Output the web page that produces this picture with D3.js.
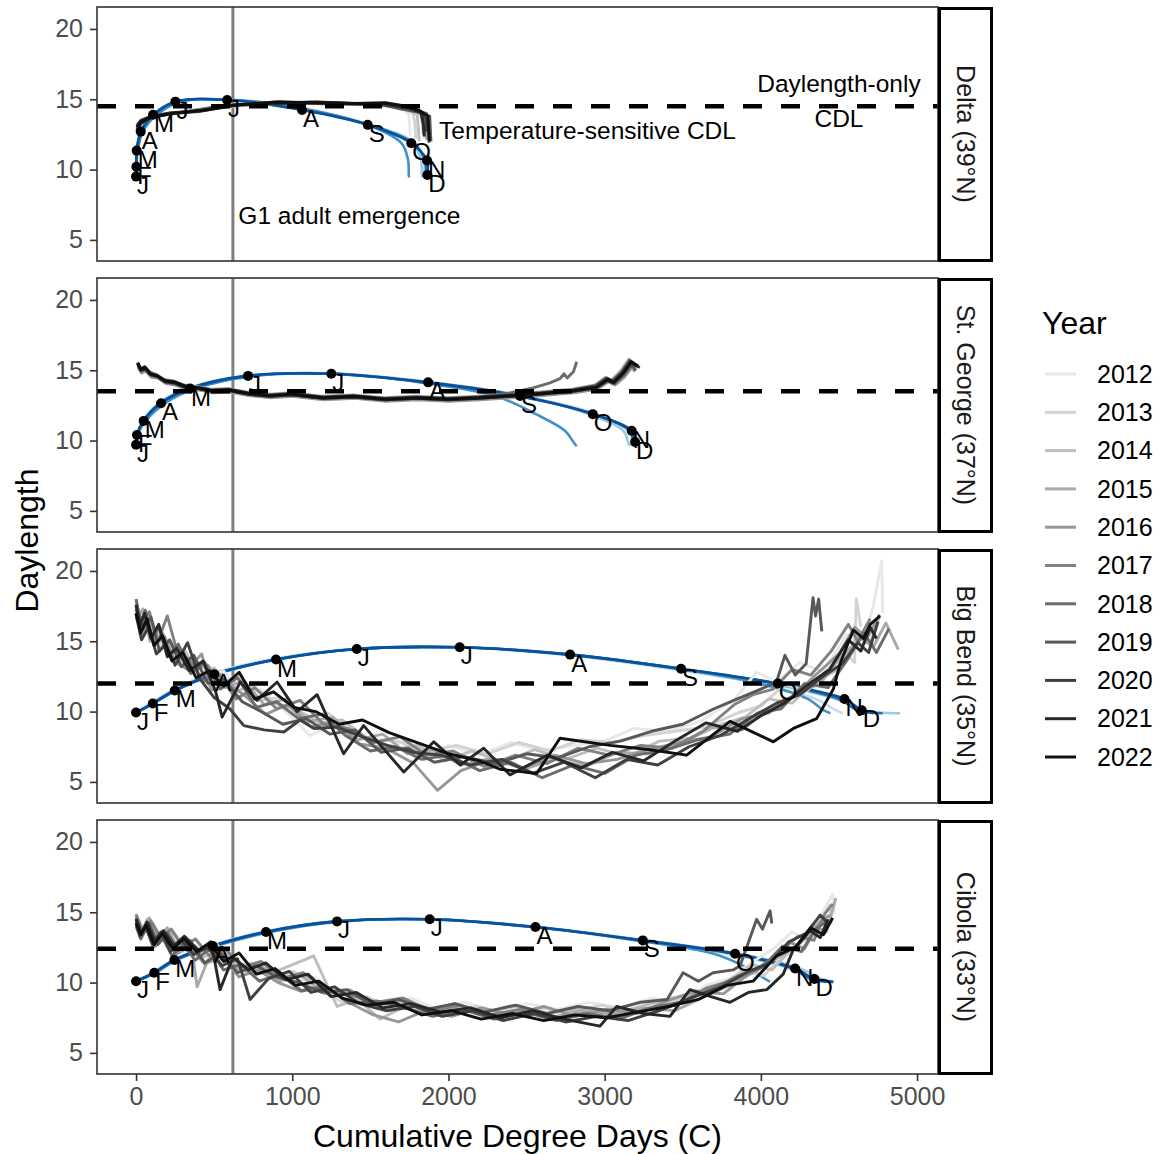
<!DOCTYPE html>
<html><head><meta charset="utf-8">
<script src="https://cdn.jsdelivr.net/npm/d3@7"></script>
<style>body{margin:0;background:#fff}svg{display:block}text{font-family:"Liberation Sans",Arial,Helvetica,sans-serif}</style>
</head><body><svg id="chart" width="1162" height="1154"></svg>
<script>
// ---------------- DATA ----------------
const years = [2012,2013,2014,2015,2016,2017,2018,2019,2020,2021,2022];
const yearColors = ['#e8e8e8','#d3d3d3','#bebebe','#a9a9a9','#969696','#818181','#6c6c6c','#585858','#404040','#272727','#0f0f0f'];
const blueColors = ['#c6dbef','#9ecae1','#4292c6','#2171b5','#08519c'];
const monthLetters = ['J','F','M','A','M','J','J','A','S','O','N','D'];
const siteNames = ['Delta (39°N)','St. George (37°N)','Big Bend (35°N)','Cibola (33°N)'];
const daylengthOnlyCDL = [14.5, 13.5, 12.0, 12.4];
const g1Emergence = 620;
const xTicks = [0,1000,2000,3000,4000,5000];
const yTicks = [5,10,15,20];

// daylength at month starts (Jan..Dec) + Dec 31
const deltaDaylength   = [9.5,10.2,11.35,12.7,13.9,14.83,14.95,14.24,13.18,11.87,10.64,9.62,9.45];
const stGeorgeDaylength= [9.7,10.4,11.4,12.65,13.7,14.6,14.75,14.14,13.17,11.88,10.7,9.9,9.6];
const bigBendDaylength = [9.93,10.57,11.5,12.65,13.7,14.45,14.57,14.05,13.05,12.0,10.9,10.1,9.88];
const cibolaDaylength  = [10.1,10.7,11.6,12.6,13.6,14.35,14.5,13.95,13.0,12.05,11.0,10.25,10.05];

// cumulative degree days at month starts, one row per blue curve
const deltaBlueDD = [
 [0,3,9,42,128,280,620,1100,1510,1790,1840,1845,1847],
 [0,2,8,38,120,270,605,1085,1495,1770,1825,1830,1833],
 [0,3,10,44,132,290,640,1120,1480,1700,1742,1746,1749],
 [0,2,6,34,115,262,595,1075,1490,1775,1850,1856,1859],
 [0,2,4,30,109,252,583,1063,1483,1762,1863,1865,1868]];
const stGeorgeBlueDD = [
 [0,8,60,180,370,750,1290,1900,2480,2950,3150,3175,3182],
 [0,7,55,170,360,735,1270,1885,2470,2900,3120,3150,3162],
 [0,9,62,185,380,760,1290,1820,2300,2560,2746,2800,2821],
 [0,5,45,150,335,700,1230,1850,2440,2930,3160,3185,3192],
 [0,6,49,160,346,717,1250,1870,2458,2924,3173,3195,3205]];
const bigBendBlueDD = [
 [0,95,230,470,860,1380,2040,2740,3420,3980,4350,4480,4525],
 [0,100,240,485,880,1400,2060,2760,3450,4060,4480,4650,4891],
 [0,110,255,510,905,1420,2080,2790,3460,3990,4300,4400,4445],
 [0,104,245,495,890,1405,2065,2770,3480,4090,4500,4620,4780],
 [0,107,248,501,896,1413,2072,2779,3489,4108,4535,4646,4720]];
const cibolaBlueDD = [
 [0,110,235,475,810,1265,1860,2530,3210,3790,4180,4330,4400],
 [0,120,250,500,845,1300,1895,2575,3265,3860,4250,4390,4470],
 [0,125,260,510,860,1320,1900,2560,3200,3700,3920,4030,4059],
 [0,113,240,485,825,1280,1870,2545,3235,3820,4200,4320,4420],
 [0,117,245,491,832,1287,1880,2557,3244,3835,4219,4343,4462]];

// month points (cumulative degree days at month starts)
const deltaPointDD    = [0,2,4,30,109,252,583,1063,1483,1762,1863,1865];
const stGeorgePointDD = [0,6,49,160,346,717,1250,1870,2458,2924,3173,3195];
const bigBendPointDD  = [0,107,248,501,896,1413,2072,2779,3489,4108,4535,4646];
const cibolaPointDD   = [0,117,245,491,832,1287,1880,2557,3244,3835,4219,4343];

// temperature-sensitive CDL, one row per year 2012..2022: [degree days, CDL]
const deltaCDL = [
 [[6,13.0],[30,13.4],[90,13.7],[200,13.95],[390,14.15],[600,14.5],[850,14.7],[1100,14.75],[1350,14.7],[1560,14.65],[1690,14.35],[1745,14.0],[1752,13.1],[1756,12.4]],
 [[5,12.6],[25,13.2],[80,13.6],[180,13.9],[350,14.1],[560,14.5],[800,14.65],[1050,14.8],[1300,14.7],[1520,14.7],[1660,14.5],[1770,14.2],[1785,13.3],[1790,12.2]],
 [[8,13.1],[35,13.5],[110,13.8],[230,14.05],[420,14.2],[640,14.6],[900,14.7],[1150,14.75],[1400,14.65],[1600,14.6],[1720,14.3],[1800,13.9],[1808,12.8],[1812,12.0]],
 [[4,12.8],[28,13.3],[95,13.7],[210,14.0],[400,14.15],[620,14.55],[880,14.75],[1130,14.7],[1380,14.7],[1580,14.55],[1710,14.4],[1820,14.1],[1835,13.2],[1840,12.5]],
 [[6,13.2],[32,13.5],[100,13.8],[220,13.95],[390,14.1],[610,14.5],[860,14.7],[1120,14.8],[1370,14.7],[1570,14.6],[1700,14.5],[1790,14.2],[1850,13.9],[1858,12.9],[1862,12.1]],
 [[5,12.9],[30,13.4],[85,13.7],[190,13.9],[360,14.2],[580,14.6],[830,14.7],[1080,14.75],[1330,14.7],[1540,14.7],[1650,14.55],[1740,14.3],[1830,14.0],[1842,13.0],[1846,12.3]],
 [[7,13.0],[36,13.4],[105,13.75],[240,14.0],[430,14.2],[650,14.6],[910,14.8],[1160,14.7],[1410,14.7],[1585,14.7],[1690,14.4],[1780,14.25],[1860,14.0],[1872,12.8],[1876,11.9]],
 [[6,12.7],[29,13.3],[92,13.7],[215,14.0],[410,14.2],[630,14.6],[890,14.75],[1140,14.7],[1390,14.65],[1575,14.6],[1700,14.3],[1800,14.1],[1880,13.8],[1885,12.6],[1888,12.0]],
 [[5,13.1],[31,13.5],[98,13.8],[225,14.05],[400,14.15],[615,14.55],[870,14.8],[1125,14.75],[1375,14.7],[1590,14.6],[1720,14.45],[1805,14.2],[1855,13.6],[1860,12.7]],
 [[6,12.8],[33,13.3],[102,13.7],[235,14.0],[425,14.2],[645,14.6],[905,14.7],[1155,14.8],[1405,14.7],[1585,14.7],[1740,14.4],[1825,14.05],[1840,13.2],[1845,12.4]],
 [[5,13.0],[30,13.4],[96,13.75],[228,14.0],[415,14.2],[635,14.6],[895,14.8],[1145,14.75],[1395,14.7],[1595,14.75],[1730,14.5],[1815,14.2],[1868,13.8],[1873,12.9],[1878,12.0]]];

const stGeorgeCDL = [
 [[15,15.4],[35,15.0],[60,15.1],[95,14.7],[140,14.6],[190,14.2],[250,14.1],[320,13.8],[400,13.75],[490,13.5],[600,13.6],[720,13.35],[860,13.2],[1000,13.3],[1200,13.05],[1400,13.15],[1600,12.95],[1800,13.05],[2000,12.95],[2200,13.05],[2400,13.2],[2600,13.35],[2800,13.55],[2950,13.8],[3020,14.3],[3060,14.1],[3120,14.7],[3170,15.5],[3190,15.1]],
 [[10,15.6],[30,15.1],[55,15.3],[90,14.8],[130,14.7],[180,14.3],[240,14.2],[310,13.9],[390,13.8],[480,13.6],[590,13.65],[710,13.4],[850,13.25],[990,13.35],[1190,13.1],[1390,13.2],[1590,13.0],[1790,13.1],[1990,13.0],[2190,13.1],[2390,13.25],[2590,13.4],[2790,13.6],[2940,13.9],[3010,14.4],[3050,14.2],[3110,14.9],[3160,15.7],[3185,15.2]],
 [[12,15.3],[32,14.9],[58,15.05],[92,14.6],[135,14.5],[185,14.1],[245,14.0],[315,13.7],[395,13.65],[485,13.45],[595,13.5],[715,13.25],[855,13.1],[995,13.2],[1195,12.95],[1395,13.05],[1595,12.85],[1795,12.95],[1995,12.85],[2195,12.95],[2395,13.1],[2595,13.25],[2795,13.45],[2945,13.7],[3015,14.2],[3055,14.0],[3115,14.6],[3165,15.4],[3188,15.0]],
 [[8,15.5],[28,15.2],[52,15.2],[88,14.9],[128,14.7],[178,14.35],[238,14.25],[308,13.95],[388,13.85],[478,13.65],[588,13.7],[708,13.45],[848,13.3],[988,13.4],[1188,13.15],[1388,13.25],[1588,13.05],[1788,13.15],[1988,13.05],[2188,13.15],[2388,13.3],[2588,13.45],[2788,13.65],[2938,13.95],[3005,14.5],[3045,14.3],[3105,15.0],[3155,15.8],[3180,15.3]],
 [[14,15.2],[34,14.8],[62,14.95],[98,14.5],[142,14.45],[192,14.05],[252,13.95],[322,13.65],[402,13.6],[492,13.4],[602,13.45],[722,13.2],[862,13.05],[1002,13.15],[1202,12.9],[1402,13.0],[1602,12.8],[1802,12.9],[2002,12.8],[2202,12.9],[2402,13.05],[2602,13.2],[2802,13.4],[2952,13.65],[3025,14.2],[3065,13.95],[3125,14.5],[3175,15.2],[3195,14.9]],
 [[11,15.45],[31,15.05],[57,15.15],[93,14.75],[136,14.6],[186,14.25],[246,14.15],[316,13.85],[396,13.75],[486,13.55],[596,13.6],[716,13.35],[856,13.2],[996,13.3],[1196,13.05],[1396,13.15],[1596,12.95],[1796,13.05],[1996,12.95],[2196,13.05],[2396,13.2],[2596,13.35],[2796,13.55],[2946,13.85],[3018,14.35],[3058,14.15],[3118,14.8],[3168,15.6],[3192,15.2]],
 [[9,15.5],[29,15.0],[54,15.2],[89,14.7],[132,14.6],[182,14.2],[242,14.1],[312,13.8],[392,13.7],[482,13.5],[592,13.55],[712,13.3],[852,13.15],[992,13.25],[1192,13.0],[1392,13.1],[1592,12.9],[1792,13.0],[1992,12.95],[2192,13.1],[2400,13.4],[2542,13.75],[2650,14.1],[2714,14.4],[2740,14.75],[2760,14.45],[2800,14.9],[2821,15.6]],
 [[13,15.35],[33,14.95],[59,15.1],[94,14.65],[138,14.55],[188,14.15],[248,14.05],[318,13.75],[398,13.7],[488,13.5],[598,13.55],[718,13.3],[858,13.15],[998,13.25],[1198,13.0],[1398,13.1],[1598,12.9],[1798,13.0],[1998,12.9],[2198,13.0],[2398,13.15],[2598,13.3],[2798,13.5],[2948,13.75],[3022,14.25],[3062,14.05],[3122,14.65],[3172,15.4],[3200,15.0]],
 [[10,15.55],[30,15.1],[56,15.25],[91,14.8],[134,14.65],[184,14.3],[244,14.2],[314,13.9],[394,13.8],[484,13.6],[594,13.65],[714,13.4],[854,13.25],[994,13.35],[1194,13.1],[1394,13.2],[1594,13.0],[1794,13.1],[1994,13.0],[2194,13.1],[2394,13.25],[2594,13.4],[2794,13.6],[2944,13.9],[3012,14.45],[3052,14.25],[3112,14.9],[3162,15.7],[3210,15.3]],
 [[12,15.4],[32,15.0],[58,15.1],[92,14.7],[136,14.55],[186,14.2],[246,14.1],[316,13.8],[396,13.7],[486,13.5],[596,13.55],[716,13.3],[856,13.15],[996,13.25],[1196,13.0],[1396,13.1],[1596,12.9],[1796,13.0],[1996,12.9],[2196,13.0],[2396,13.15],[2596,13.3],[2796,13.5],[2946,13.75],[3016,14.3],[3056,14.1],[3116,14.75],[3166,15.5],[3225,15.2]],
 [[11,15.5],[31,15.05],[57,15.2],[93,14.75],[137,14.6],[187,14.25],[247,14.15],[317,13.85],[397,13.75],[487,13.55],[597,13.6],[717,13.35],[857,13.2],[997,13.3],[1197,13.05],[1397,13.15],[1597,12.95],[1797,13.05],[1997,12.95],[2197,13.05],[2397,13.2],[2597,13.35],[2797,13.55],[2947,13.8],[3019,14.35],[3059,14.15],[3119,14.8],[3169,15.6],[3215,15.3]]];

const bigBendCDL = [
 [[0,16.8],[40,15.2],[80,16.1],[130,14.4],[190,15.0],[260,13.6],[350,13.9],[450,12.4],[560,12.9],[680,11.2],[800,11.6],[950,10.1],[1114,8.3],[1250,9.0],[1400,8.6],[1550,7.4],[1700,7.8],[1850,6.6],[2000,7.6],[2200,6.9],[2400,7.8],[2600,7.2],[2800,7.6],[3000,7.9],[3183,8.8],[3400,8.6],[3611,9.3],[3825,10.8],[3973,12.8],[4100,12.1],[4250,13.5],[4400,12.8],[4550,15.5],[4650,14.8],[4720,17.5],[4774,20.7],[4780,17.0]],
 [[0,17.2],[50,15.8],[100,16.5],[160,14.6],[230,14.9],[320,13.1],[420,13.4],[530,11.9],[650,12.6],[780,10.8],[920,11.0],[1080,9.6],[1230,9.9],[1380,8.5],[1530,8.0],[1680,7.9],[1850,7.1],[2050,7.6],[2250,7.0],[2450,7.8],[2650,7.2],[2850,8.0],[3050,7.8],[3250,8.3],[3450,8.6],[3650,8.9],[3850,9.9],[4000,10.4],[4150,11.9],[4300,11.5],[4450,13.2],[4550,14.1],[4600,13.5],[4611,18.0],[4640,16.0]],
 [[0,17.8],[30,16.0],[70,16.9],[120,15.1],[170,15.6],[240,13.8],[310,14.4],[400,12.6],[500,13.1],[620,11.3],[740,11.9],[880,10.6],[1020,10.2],[1170,9.2],[1320,9.4],[1480,8.1],[1640,7.3],[1800,7.6],[1980,6.5],[2150,7.2],[2350,6.4],[2550,7.3],[2750,6.6],[2950,7.4],[3150,6.8],[3350,7.9],[3550,8.1],[3750,9.1],[3900,9.6],[4050,10.9],[4200,10.6],[4350,12.2],[4500,13.0],[4620,15.4],[4700,14.9],[4760,16.8]],
 [[0,16.5],[45,17.3],[90,15.0],[150,15.8],[210,13.9],[280,14.6],[360,12.9],[460,13.3],[570,11.7],[690,12.2],[820,10.5],[960,10.9],[1100,9.3],[1260,9.6],[1420,8.0],[1580,8.4],[1740,7.0],[1900,7.3],[2080,6.2],[2280,6.7],[2480,5.9],[2680,6.6],[2880,6.1],[3080,7.1],[3280,7.0],[3480,7.6],[3680,8.9],[3880,8.7],[4060,10.3],[4220,11.2],[4380,12.0],[4520,14.0],[4640,15.2],[4720,14.6],[4800,16.3],[4880,14.4]],
 [[0,17.0],[35,15.4],[75,16.3],[125,14.8],[185,15.3],[250,13.5],[330,13.0],[420,14.1],[480,11.5],[590,12.0],[700,11.1],[830,9.8],[970,10.5],[1120,8.9],[1270,9.3],[1430,7.7],[1600,7.4],[1780,6.3],[1930,4.4],[2080,5.8],[2280,6.6],[2480,6.0],[2680,6.9],[2880,6.3],[3080,6.6],[3280,7.3],[3480,7.8],[3680,8.2],[3880,9.5],[4050,9.9],[4200,11.0],[4350,12.6],[4500,14.1],[4600,16.0],[4680,15.2],[4760,16.9]],
 [[0,17.5],[40,16.2],[85,17.1],[140,15.0],[200,16.8],[265,14.2],[340,13.7],[430,12.1],[520,12.8],[640,10.9],[760,11.7],[900,10.2],[1050,10.8],[1200,9.1],[1360,8.8],[1520,7.8],[1690,8.2],[1860,6.9],[2030,7.2],[2230,6.1],[2430,6.9],[2630,6.3],[2830,7.4],[3030,6.9],[3230,7.6],[3430,7.4],[3630,8.6],[3830,10.5],[3950,11.2],[4080,11.6],[4200,13.0],[4320,12.6],[4450,14.3],[4560,16.2],[4620,15.0],[4700,16.6]],
 [[0,18.0],[30,16.4],[60,17.2],[100,15.3],[150,16.0],[210,14.0],[270,14.8],[350,12.7],[440,13.5],[540,11.6],[650,12.4],[770,10.3],[900,10.7],[1040,9.5],[1190,9.8],[1340,8.3],[1500,7.2],[1660,7.5],[1830,6.6],[2000,6.9],[2200,5.8],[2400,6.4],[2600,5.3],[2800,6.2],[3000,5.6],[3200,6.9],[3400,7.3],[3600,8.0],[3800,8.4],[3980,9.9],[4130,10.2],[4280,12.0],[4430,11.7],[4560,13.8],[4660,15.6],[4740,14.2],[4820,15.9]],
 [[0,17.3],[45,15.9],[95,16.7],[150,14.3],[215,15.1],[290,13.2],[370,14.0],[460,12.0],[560,12.3],[680,10.7],[800,10.0],[940,9.1],[1090,9.5],[1240,8.4],[1400,8.7],[1570,7.1],[1740,7.4],[1910,6.4],[2100,6.8],[2300,6.3],[2500,7.0],[2700,6.7],[2900,7.5],[3100,7.9],[3300,8.6],[3500,9.1],[3700,10.2],[3850,10.9],[4000,11.6],[4100,12.1],[4154,14.0],[4220,12.6],[4290,13.4],[4334,18.1],[4350,16.8],[4370,18.0],[4390,15.7]],
 [[0,16.9],[35,15.1],[80,16.0],[130,14.1],[190,14.8],[250,13.3],[330,14.9],[410,12.3],[500,11.0],[600,10.2],[690,9.0],[820,8.7],[946,8.55],[1050,9.4],[1140,8.8],[1290,8.9],[1450,8.2],[1610,7.6],[1780,7.1],[1950,6.9],[2140,6.2],[2340,6.6],[2540,5.6],[2740,6.4],[2940,5.3],[3140,6.6],[3340,6.2],[3540,7.5],[3740,8.3],[3940,9.6],[4100,10.6],[4250,11.2],[4400,12.5],[4520,13.4],[4620,14.9],[4690,14.2],[4750,16.4]],
 [[0,17.6],[25,16.1],[55,17.0],[95,15.2],[145,16.2],[200,13.9],[260,14.5],[340,12.9],[430,13.6],[510,11.4],[551,9.6],[667,12.1],[774,10.8],[903,12.1],[1031,10.0],[1159,11.2],[1329,7.0],[1457,9.0],[1714,5.7],[1906,7.85],[2075,6.2],[2226,7.4],[2394,5.5],[2631,6.9],[2850,6.0],[3050,7.1],[3250,6.5],[3450,7.9],[3650,9.2],[3850,8.6],[4000,9.7],[4150,10.6],[4300,11.9],[4440,13.0],[4560,15.1],[4640,14.3],[4700,16.0],[4740,15.2]],
 [[0,17.0],[30,15.6],[70,16.6],[115,14.7],[170,15.4],[230,13.6],[300,14.2],[385,12.4],[470,12.9],[560,11.8],[660,12.8],[760,10.9],[880,11.4],[1010,10.3],[1150,10.0],[1300,9.1],[1450,9.4],[1620,8.5],[1800,7.8],[2000,7.0],[2200,6.5],[2330,5.9],[2565,5.6],[2714,8.1],[3035,7.6],[3280,7.3],[3525,6.9],[3803,9.3],[4080,7.85],[4208,8.8],[4357,9.5],[4464,11.6],[4507,13.4],[4592,15.8],[4656,15.2],[4700,16.2],[4763,16.8]]];

const cibolaCDL = [
 [[0,14.4],[40,13.5],[90,14.0],[150,12.9],[220,13.3],[300,12.2],[390,12.6],[490,11.5],[600,11.9],[720,10.6],[850,11.0],[990,10.0],[1140,10.4],[1290,9.1],[1450,8.7],[1600,8.4],[1760,8.9],[1930,8.1],[2100,8.6],[2300,8.0],[2500,8.5],[2700,8.1],[2900,8.6],[3100,8.2],[3300,8.9],[3500,8.6],[3650,9.8],[3800,10.3],[3950,11.5],[4080,12.4],[4200,13.6],[4300,13.1],[4400,15.1],[4460,16.3],[4470,14.9]],
 [[0,14.7],[50,13.7],[110,14.2],[170,13.1],[240,13.6],[330,12.4],[420,12.0],[520,12.7],[620,11.2],[740,11.4],[870,10.3],[1010,10.8],[1160,9.6],[1320,8.6],[1480,9.0],[1640,8.0],[1810,8.4],[1990,7.8],[2180,8.3],[2380,7.7],[2580,8.2],[2780,7.9],[2980,8.4],[3180,7.9],[3380,8.4],[3560,9.1],[3720,9.6],[3880,10.8],[4020,10.5],[4150,12.0],[4260,12.9],[4360,14.0],[4440,15.5],[4450,14.1]],
 [[0,14.1],[30,13.4],[70,14.5],[120,12.8],[180,13.5],[250,12.1],[330,12.9],[430,11.8],[530,12.3],[650,11.0],[780,10.6],[920,10.9],[1073,11.6],[1137,11.9],[1287,8.3],[1420,8.8],[1562,7.4],[1700,8.2],[1860,7.9],[2040,8.5],[2230,7.9],[2430,8.3],[2630,7.8],[2830,8.1],[3030,7.7],[3230,8.3],[3430,8.9],[3620,9.3],[3800,10.1],[3940,11.3],[4070,10.9],[4190,12.3],[4300,13.2],[4390,14.5],[4430,13.9]],
 [[0,14.9],[40,13.8],[85,14.6],[140,13.0],[200,13.9],[270,12.4],[350,13.0],[391,9.7],[460,11.6],[560,12.2],[670,10.8],[790,11.3],[920,10.1],[1060,10.5],[1210,9.2],[1370,9.5],[1530,8.3],[1700,8.7],[1880,7.9],[2060,8.2],[2250,7.6],[2450,8.0],[2650,7.5],[2850,8.0],[3050,7.8],[3250,8.2],[3450,8.0],[3640,9.0],[3820,9.9],[3980,10.9],[4110,11.8],[4230,12.6],[4330,14.1],[4420,13.6],[4480,16.0]],
 [[0,14.5],[35,13.2],[75,14.1],[125,12.6],[185,13.4],[255,12.0],[340,12.6],[440,11.3],[545,11.9],[660,10.4],[780,10.9],[910,10.0],[1050,9.4],[1200,9.8],[1360,8.6],[1520,7.7],[1680,7.2],[1850,8.0],[2020,7.6],[2210,8.2],[2410,7.7],[2610,8.3],[2810,7.6],[3010,8.1],[3210,7.8],[3400,8.7],[3580,9.4],[3760,9.2],[3920,10.6],[4060,11.6],[4180,12.9],[4280,12.4],[4370,14.2],[4440,14.8]],
 [[0,14.8],[45,13.6],[95,14.4],[155,13.2],[225,13.8],[300,12.5],[380,13.1],[470,11.9],[570,12.4],[680,11.1],[800,11.5],[930,10.3],[1070,10.7],[1220,9.5],[1380,9.1],[1540,8.6],[1710,8.9],[1890,8.0],[2070,8.4],[2260,7.7],[2460,8.1],[2660,7.4],[2860,7.8],[3060,7.5],[3260,8.1],[3460,8.4],[3650,9.6],[3830,10.2],[3990,11.0],[4120,12.2],[4240,13.3],[4340,13.0],[4410,14.9],[4460,15.6]],
 [[0,14.0],[30,13.1],[65,13.9],[110,12.5],[165,13.3],[230,11.9],[300,12.7],[380,11.6],[470,12.4],[560,10.9],[670,11.3],[790,10.1],[920,10.6],[1060,9.4],[1210,9.7],[1370,8.5],[1540,8.7],[1720,8.2],[1900,7.6],[2090,8.1],[2290,7.4],[2490,7.9],[2690,7.3],[2890,7.8],[3090,7.4],[3290,8.2],[3490,8.6],[3680,9.5],[3860,10.5],[4010,11.1],[4140,12.6],[4260,12.2],[4350,13.8],[4430,14.4]],
 [[0,14.6],[40,13.4],[85,14.2],[140,12.7],[200,13.5],[270,12.3],[350,12.8],[440,11.4],[540,12.1],[650,10.7],[770,11.2],[900,10.4],[1040,10.0],[1190,9.3],[1350,9.5],[1510,8.4],[1680,8.8],[1860,8.1],[2040,8.5],[2230,7.9],[2430,8.4],[2630,7.8],[2830,8.3],[3030,8.0],[3230,8.6],[3400,8.8],[3502,10.7],[3600,10.1],[3694,10.7],[3822,10.9],[3867,11.2],[3973,14.5],[4010,13.8],[4059,15.1],[4070,14.2]],
 [[0,14.3],[25,13.3],[60,14.0],[105,12.8],[160,13.6],[220,12.2],[290,13.0],[370,12.0],[460,12.5],[550,11.2],[650,11.7],[730,8.8],[850,10.3],[980,10.8],[1120,9.3],[1270,9.7],[1430,8.5],[1600,8.0],[1780,8.3],[1960,7.6],[2150,8.0],[2350,7.3],[2550,7.8],[2750,7.2],[2950,7.6],[3150,7.3],[3350,8.0],[3550,8.9],[3750,9.7],[3920,10.8],[4060,11.4],[4180,12.9],[4290,13.5],[4380,14.8],[4430,14.2]],
 [[0,14.5],[35,13.5],[70,14.3],[120,12.9],[175,13.7],[240,12.6],[310,13.3],[400,12.3],[480,12.9],[538,9.5],[620,11.8],[720,10.9],[830,11.4],[960,10.2],[1100,10.6],[1250,9.0],[1410,9.3],[1580,8.2],[1760,8.5],[1950,7.9],[2140,8.2],[2340,7.5],[2540,8.0],[2740,7.4],[2970,6.9],[3077,8.3],[3250,7.8],[3418,7.6],[3546,9.5],[3680,9.0],[3803,8.6],[3920,9.3],[4038,9.5],[4143,10.6],[4206,12.3],[4315,13.7],[4380,13.2],[4430,14.5]],
 [[0,14.2],[30,13.4],[65,14.1],[115,12.7],[170,13.5],[235,12.4],[305,13.1],[390,12.2],[470,12.8],[560,11.5],[660,12.1],[770,10.6],[890,11.0],[1020,9.8],[1170,10.1],[1320,8.9],[1480,8.4],[1650,8.6],[1830,7.7],[2020,8.0],[2210,7.4],[2410,7.8],[2610,7.3],[2810,7.7],[3010,7.5],[3210,7.9],[3410,8.3],[3600,8.8],[3780,9.8],[3950,10.1],[4100,11.9],[4220,12.5],[4320,13.9],[4400,13.4],[4460,14.6]]];

// annotation text in the Delta panel: [degree days, daylength, text, anchor]
const deltaNotes = [
 [4500, 16.1, 'Daylength-only', 'middle'],
 [4500, 13.65, 'CDL', 'middle'],
 [1940, 12.75, 'Temperature-sensitive CDL', 'start'],
 [655, 6.75, 'G1 adult emergence', 'start']];

// ---------------- BUILD ----------------
const panels = [
 {name: siteNames[0], dl: deltaDaylength, blue: deltaBlueDD, pts: deltaPointDD, cdl: deltaCDL, h: daylengthOnlyCDL[0], notes: deltaNotes},
 {name: siteNames[1], dl: stGeorgeDaylength, blue: stGeorgeBlueDD, pts: stGeorgePointDD, cdl: stGeorgeCDL, h: daylengthOnlyCDL[1], notes: []},
 {name: siteNames[2], dl: bigBendDaylength, blue: bigBendBlueDD, pts: bigBendPointDD, cdl: bigBendCDL, h: daylengthOnlyCDL[2], notes: []},
 {name: siteNames[3], dl: cibolaDaylength, blue: cibolaBlueDD, pts: cibolaPointDD, cdl: cibolaCDL, h: daylengthOnlyCDL[3], notes: []}];

const svg = d3.select('#chart');
const L = 97, R = 938, panelH = 254, gapH = 17, top0 = 7;
const x = d3.scaleLinear().domain([-250, 5134]).range([L, R]);
const panelTop = i => top0 + i*(panelH + gapH);

const defs = svg.append('defs');
defs.append('clipPath').attr('id','clip').append('rect').attr('x',L).attr('y',0).attr('width',R-L).attr('height',panelH);

panels.forEach((p, i) => {
  const t = panelTop(i);
  const y = d3.scaleLinear().domain([3.5, 21.56]).range([panelH, 0]);
  const g = svg.append('g').attr('transform', `translate(0,${t})`);
  g.append('rect').attr('x',L).attr('y',0).attr('width',R-L).attr('height',panelH).attr('fill','#fff');
  const pg = g.append('g').attr('clip-path','url(#clip)');

  // G1 emergence vertical line
  pg.append('line').attr('x1',x(g1Emergence)).attr('x2',x(g1Emergence)).attr('y1',0).attr('y2',panelH)
    .attr('stroke','#7f7f7f').attr('stroke-width',3);

  // blue daylength curves
  const blueLine = d3.line().x(d=>x(d[0])).y(d=>y(d[1])).curve(d3.curveCatmullRom.alpha(0.5));
  p.blue.forEach((dd, k) => {
    const pts = dd.map((v, m) => [v, p.dl[m]]);
    pg.append('path').attr('d', blueLine(pts)).attr('fill','none')
      .attr('stroke', blueColors[k]).attr('stroke-width', 2.6).attr('stroke-linejoin','round');
  });

  // temperature-sensitive CDL lines by year
  const grayLine = d3.line().x(d=>x(d[0])).y(d=>y(d[1]));
  p.cdl.forEach((arr, k) => {
    pg.append('path').attr('d', grayLine(arr)).attr('fill','none')
      .attr('stroke', yearColors[k]).attr('stroke-width', 2.9)
      .attr('stroke-linejoin','round');
  });

  // daylength-only CDL dashed line
  pg.append('line').attr('x1',L).attr('x2',R).attr('y1',y(p.h)).attr('y2',y(p.h))
    .attr('stroke','#000').attr('stroke-width',4.5).attr('stroke-dasharray','19 19');

  // month points and labels
  p.pts.forEach((v, m) => {
    pg.append('circle').attr('cx',x(v)).attr('cy',y(p.dl[m])).attr('r',5).attr('fill','#000');
    pg.append('text').attr('x',x(v)+1).attr('y',y(p.dl[m])+17).attr('font-size',24).attr('fill','#000').text(monthLetters[m]);
  });

  // annotations
  p.notes.forEach(n => {
    g.append('text').attr('x',x(n[0])).attr('y',y(n[1])).attr('dy','0.35em').attr('text-anchor',n[3])
      .attr('font-size',24.5).attr('fill','#000').text(n[2]);
  });

  // panel border
  g.append('rect').attr('x',L).attr('y',0).attr('width',R-L).attr('height',panelH)
    .attr('fill','none').attr('stroke','#333').attr('stroke-width',1.6);

  // strip
  g.append('rect').attr('x',939.5).attr('y',1.5).attr('width',52).attr('height',panelH-2)
    .attr('fill','#fff').attr('stroke','#000').attr('stroke-width',3);
  g.append('text').attr('transform',`translate(965.5,${panelH/2}) rotate(90)`).attr('text-anchor','middle')
    .attr('dy','0.35em').attr('font-size',25).attr('fill','#1a1a1a').text(p.name);

  // y axis
  const ya = g.append('g').attr('transform',`translate(${L},0)`)
    .call(d3.axisLeft(y).tickValues(yTicks).tickSize(7).tickPadding(7));
  ya.select('.domain').remove();
  ya.selectAll('line').attr('stroke','#333').attr('stroke-width',1.6);
  ya.selectAll('text').attr('font-size',25).attr('fill','#4d4d4d').attr('font-family','"Liberation Sans",Arial,sans-serif');
});

// x axis on bottom panel
const bottom = panelTop(3) + panelH;
const xa = svg.append('g').attr('transform',`translate(0,${bottom})`)
  .call(d3.axisBottom(x).tickValues(xTicks).tickSize(7).tickPadding(6).tickFormat(d3.format('d')));
xa.select('.domain').remove();
xa.selectAll('line').attr('stroke','#333').attr('stroke-width',1.6);
xa.selectAll('text').attr('font-size',25).attr('fill','#4d4d4d').attr('font-family','"Liberation Sans",Arial,sans-serif');

// axis titles
svg.append('text').attr('x',(L+R)/2).attr('y',1147).attr('text-anchor','middle').attr('font-size',32).attr('fill','#000')
  .text('Cumulative Degree Days (C)');
svg.append('text').attr('transform',`translate(38,${(top0 + bottom)/2}) rotate(-90)`).attr('text-anchor','middle')
  .attr('font-size',32).attr('fill','#000').text('Daylength');

// legend
const lg = svg.append('g');
lg.append('text').attr('x',1042).attr('y',334).attr('font-size',32).attr('fill','#000').text('Year');
years.forEach((yr, k) => {
  const cy = 374 + k*38.3;
  lg.append('line').attr('x1',1045).attr('x2',1076).attr('y1',cy).attr('y2',cy)
    .attr('stroke',yearColors[k]).attr('stroke-width',3);
  lg.append('text').attr('x',1097).attr('y',cy).attr('dy','0.35em').attr('font-size',25).attr('fill','#000').text(yr);
});
</script></body></html>
